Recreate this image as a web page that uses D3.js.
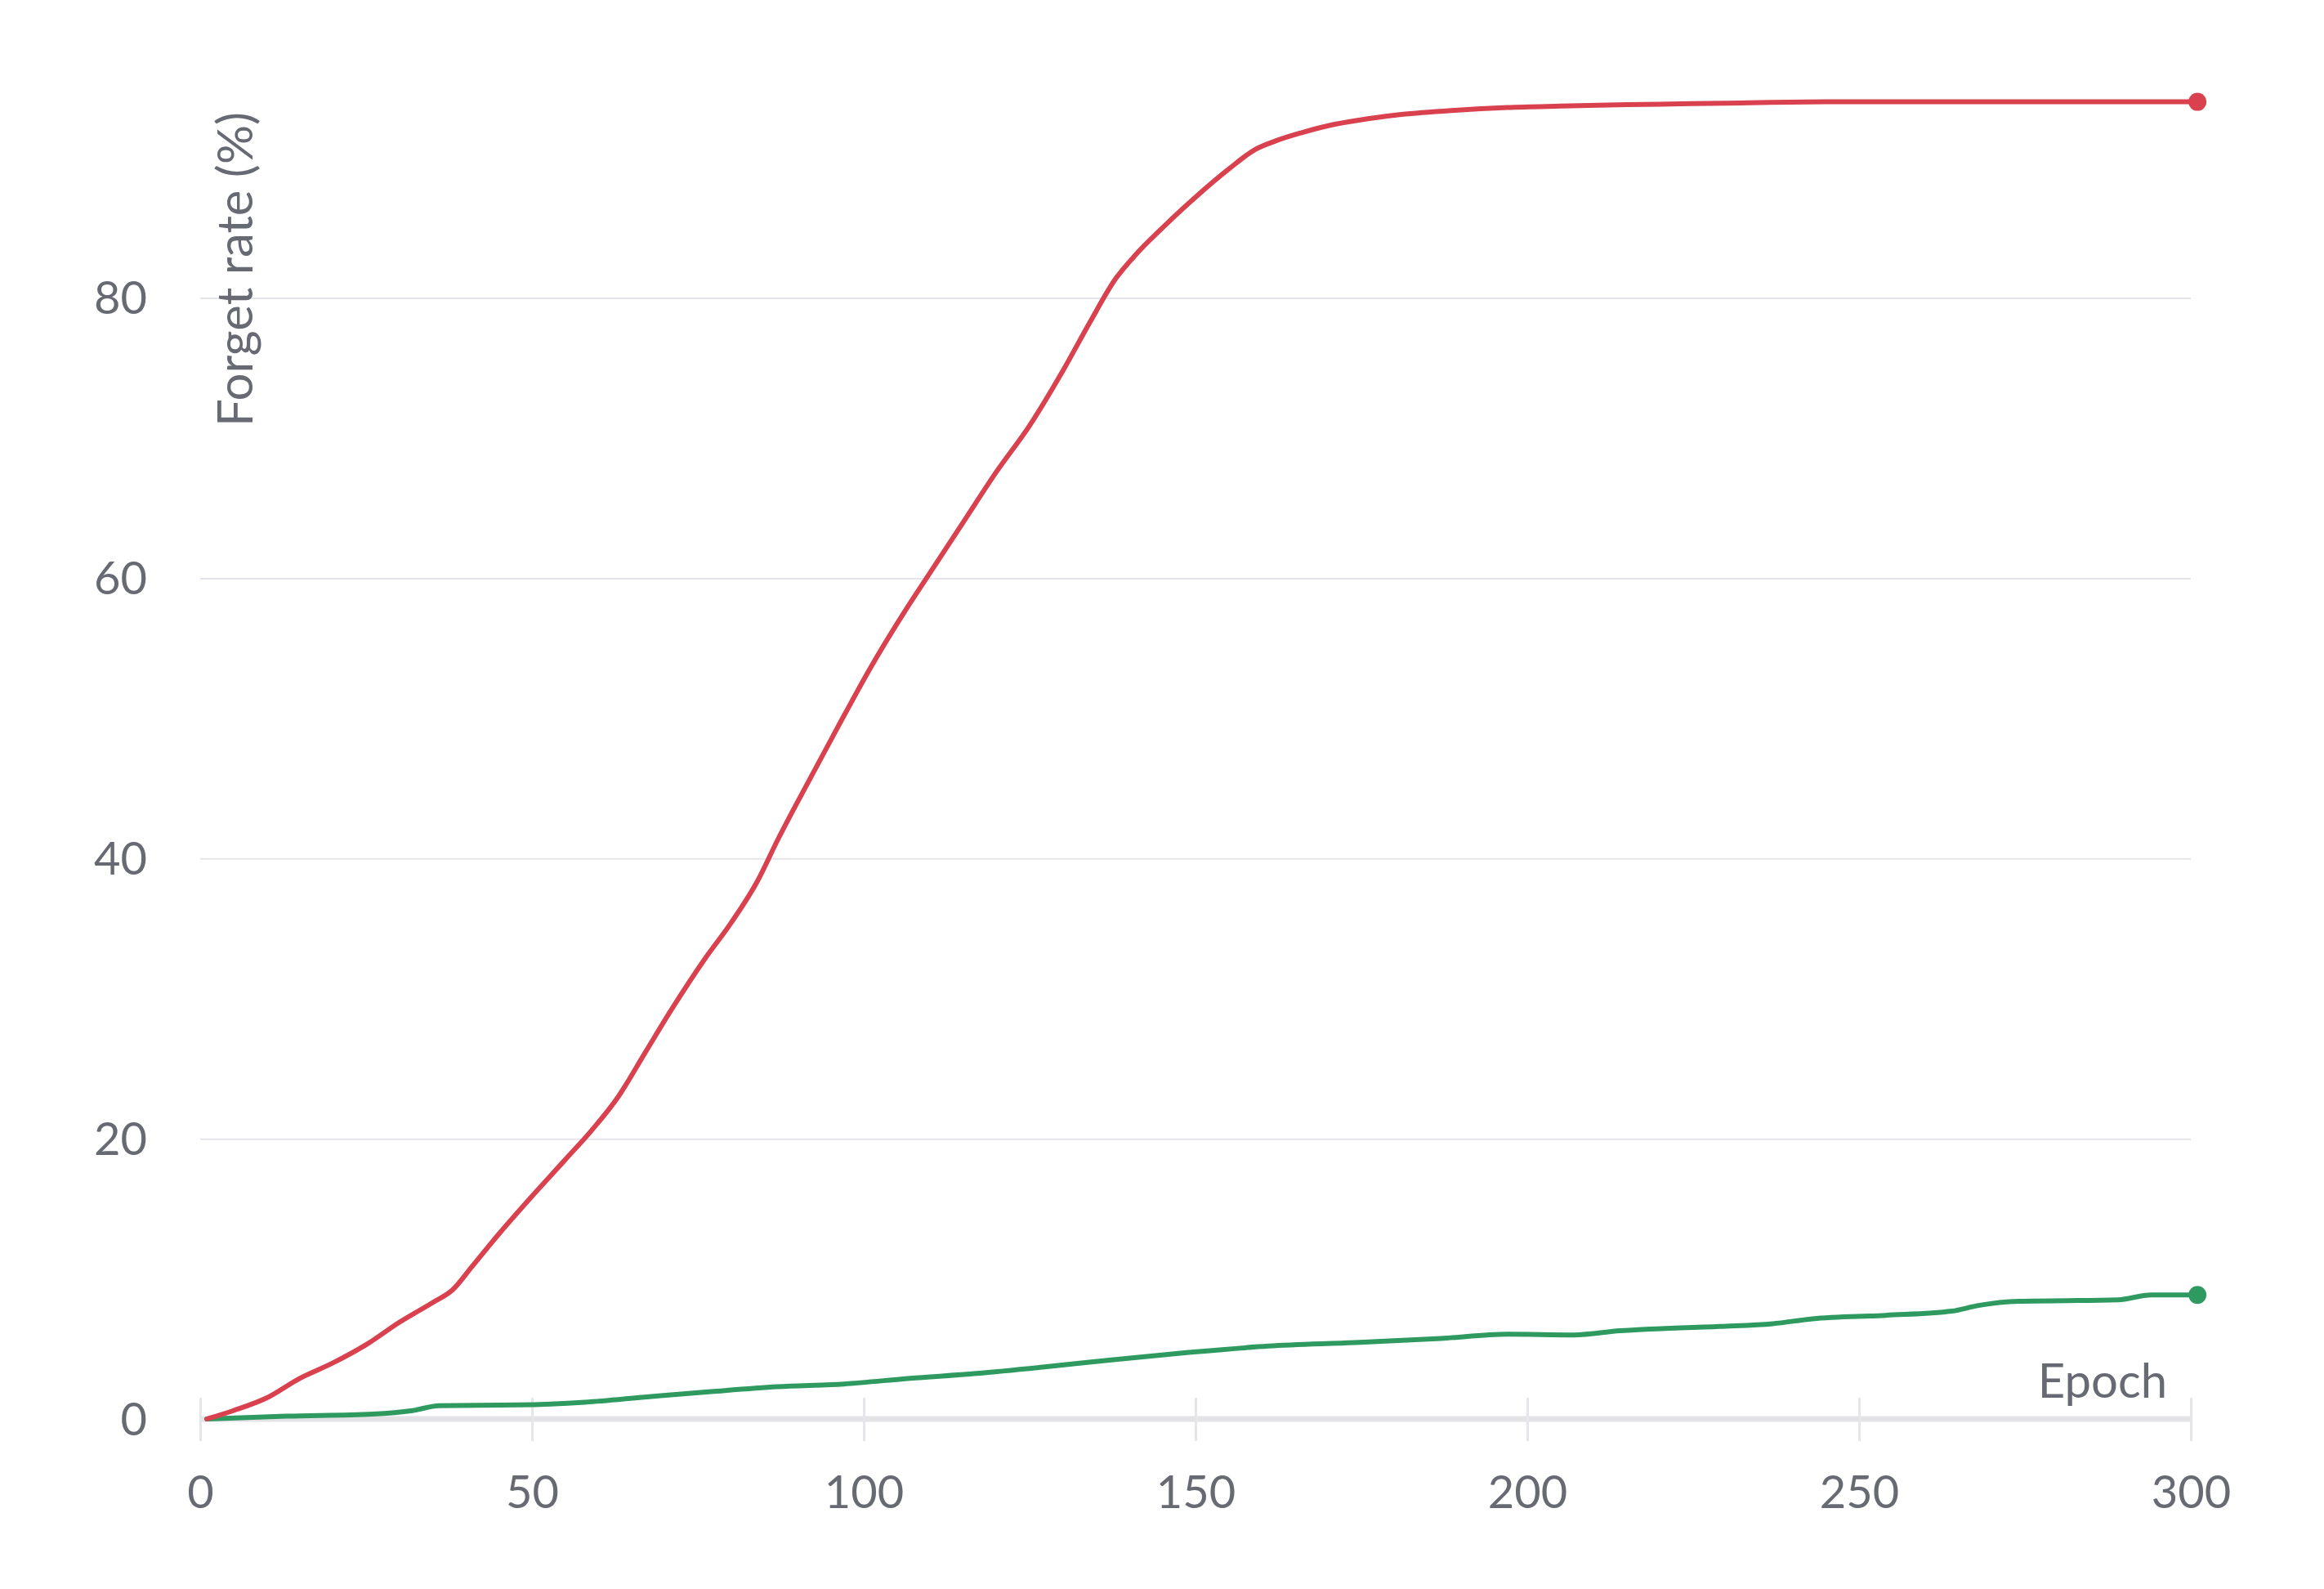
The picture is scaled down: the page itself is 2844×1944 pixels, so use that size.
<!DOCTYPE html>
<html>
<head>
<meta charset="utf-8">
<script src="https://cdn.jsdelivr.net/npm/d3@7"></script>
<style>
  html, body { margin: 0; padding: 0; background: #fff; }
  svg { display: block; }
  text { font-family: "Source Sans Pro", Lato, "Noto Sans", sans-serif; fill: #676a72; }
</style>
</head>
<body>
<div id="chart"></div>
<script>
// values
const redEpochs = [1, 5, 10, 15, 20, 25, 30, 35, 38, 41, 45, 50, 55, 59, 63, 67, 71, 76, 80, 84, 87, 91, 96, 101, 106, 110, 115, 120, 125, 130, 134, 138, 141, 145, 150, 155, 159, 162, 166, 171, 176, 181, 189, 197, 205, 215, 230, 245, 260, 280, 301];
const redRate = [0, 0.6, 1.5, 2.9, 4.0, 5.3, 6.9, 8.3, 9.2, 10.9, 13.2, 15.9, 18.5, 20.6, 23.0, 26.1, 29.2, 32.8, 35.4, 38.4, 41.3, 44.9, 49.3, 53.6, 57.5, 60.4, 64.0, 67.6, 70.9, 74.8, 78.2, 81.4, 83.1, 85.0, 87.2, 89.2, 90.6, 91.2, 91.8, 92.4, 92.8, 93.1, 93.4, 93.6, 93.7, 93.8, 93.9, 94.0, 94.0, 94.0, 94.0];

const greenEpochs = [1, 13, 26, 32, 36, 48, 58, 68, 77, 87, 97, 107, 117, 127, 137, 149, 161, 174, 187, 197, 207, 214, 229, 237, 243, 254, 264, 268, 274, 289, 294, 301];
const greenRate = [0, 0.2, 0.35, 0.6, 0.95, 1.0, 1.2, 1.6, 1.95, 2.3, 2.5, 2.9, 3.25, 3.7, 4.2, 4.75, 5.2, 5.45, 5.75, 6.05, 6.0, 6.3, 6.6, 6.8, 7.15, 7.4, 7.7, 8.1, 8.4, 8.5, 8.85, 8.85];

const xTicks = [0, 50, 100, 150, 200, 250, 300];
const yTicks = [0, 20, 40, 60, 80];

const xLabel = "Epoch";
const yLabel = "Forget rate (%)";

const redColor = "#d9414f";
const greenColor = "#2f9a60";

class Chart {
  constructor(el) {
    this.el = el;
    this.init();
  }

  init() {
    this.width = 2844;
    this.height = 1944;
    this.left = 245;
    this.right = 2681;
    this.top = 364.6;
    this.bottom = 1736;

    this.xScale = d3.scaleLinear().domain([0, 300]).range([this.left, this.right]);
    this.yScale = d3.scaleLinear().domain([0, 80]).range([this.bottom, this.top]);

    this.svg = d3
      .select(this.el)
      .append("svg")
      .attr("width", this.width)
      .attr("height", this.height);

    this.drawGrid();
    this.drawAxis();
    this.drawLines();
  }

  drawGrid() {
    const grid = this.svg.append("g")
      .attr("transform", `translate(${this.left}, 0)`)
      .call(d3.axisLeft(this.yScale)
        .tickValues(yTicks.filter(d => d > 0))
        .tickFormat("")
        .tickSize(-(this.right - this.left)));
    grid.select(".domain").remove();
    grid.selectAll("line").attr("stroke", "#e4e5ea").attr("stroke-width", 2);

    const yAxis = this.svg.append("g")
      .attr("transform", `translate(180, 0)`)
      .call(d3.axisLeft(this.yScale).tickValues(yTicks).tickSize(0).tickPadding(0));
    yAxis.select(".domain").remove();
    yAxis.selectAll("text")
      .attr("font-size", 56)
      .attr("dy", "0.34em")
      .attr("font-family", null)
      .attr("fill", "#676a72");
  }

  drawAxis() {
    // thick baseline
    this.svg.append("line")
      .attr("x1", this.xScale(0))
      .attr("x2", this.xScale(300))
      .attr("y1", this.yScale(0))
      .attr("y2", this.yScale(0))
      .attr("stroke", "#e3e3e5")
      .attr("stroke-width", 7);

    const ticks = this.svg.append("g")
      .attr("transform", `translate(0, ${this.yScale(0) - 26})`)
      .call(d3.axisBottom(this.xScale).tickValues(xTicks).tickSize(53).tickFormat(""));
    ticks.select(".domain").remove();
    ticks.selectAll("line").attr("stroke", "#e5e6ea").attr("stroke-width", 3);

    const xAxis = this.svg.append("g")
      .attr("transform", `translate(0, 1845)`)
      .call(d3.axisBottom(this.xScale).tickValues(xTicks).tickSize(0).tickPadding(0));
    xAxis.select(".domain").remove();
    xAxis.selectAll("text")
      .attr("font-size", 56)
      .attr("dy", 0)
      .attr("font-family", null)
      .attr("fill", "#676a72");

    this.svg.append("text")
      .attr("x", 2652)
      .attr("y", 1710)
      .attr("text-anchor", "end")
      .attr("font-size", 58)
      .text(xLabel);

    this.svg.append("text")
      .attr("transform", "translate(309, 137) rotate(-90)")
      .attr("text-anchor", "end")
      .attr("font-size", 60)
      .text(yLabel);
  }

  drawLines() {
    const series = [
      { epochs: greenEpochs, values: greenRate, color: greenColor },
      { epochs: redEpochs, values: redRate, color: redColor }
    ];
    const line = d3.line()
      .x(d => this.xScale(d[0]))
      .y(d => this.yScale(d[1]))
      .curve(d3.curveMonotoneX);

    series.forEach(s => {
      const pts = s.epochs.map((e, i) => [e, s.values[i]]);
      this.svg.append("path")
        .datum(pts)
        .attr("fill", "none")
        .attr("stroke", s.color)
        .attr("stroke-width", 6)
        .attr("stroke-linejoin", "round")
        .attr("stroke-linecap", "round")
        .attr("d", line);
      const last = pts[pts.length - 1];
      this.svg.append("circle")
        .attr("cx", this.xScale(last[0]))
        .attr("cy", this.yScale(last[1]))
        .attr("r", 11)
        .attr("fill", s.color);
    });
  }
}

new Chart(document.getElementById("chart"));
</script>
</body>
</html>
